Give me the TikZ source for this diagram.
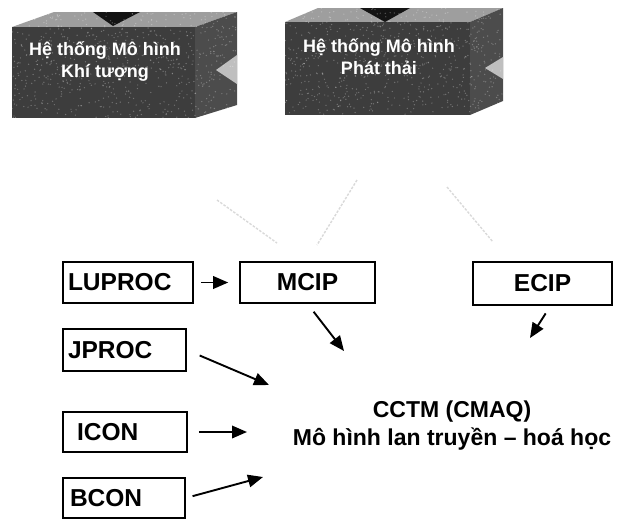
\documentclass[tikz,border=0pt]{standalone}
\usepackage{fontspec}
\setmainfont{Liberation Sans}
\usetikzlibrary{arrows.meta}
\begin{document}
\begin{tikzpicture}[x=1pt,y=-1pt,
  procbox/.style={draw=black, line width=1.6pt, minimum height=41pt, inner ysep=0pt,
    font=\fontsize{24.5}{27}\selectfont\bfseries},
  arr/.style={line width=1.9pt, -{Triangle[length=15pt,width=12.5pt]}},
  faint/.style={draw=gray!30, line width=1.4pt, dash pattern=on 2.5pt off 1.5pt},
  blocktext/.style={text=white, font=\fontsize{18}{22}\selectfont\bfseries, align=center, inner sep=0pt},
  frontface/.style={fill=black!76},
  topface/.style={fill=black!38},
  sideface/.style={fill=black!70},
  notchdark/.style={fill=black!92},
  notchlight/.style={fill=black!25},
  speck/.style={fill=white, opacity=0.28}]

\useasboundingbox (0,0) rectangle (622,520);

% ---- 3-D block: meteorological model system ----
\fill[topface]  (12,27) -- (54,12) -- (237,12) -- (195,27) -- cycle;
\fill[notchdark] (93,12) -- (140,12) -- (113,26) -- cycle;
\fill[sideface] (195,27) -- (237,12) -- (237,105) -- (195,118) -- cycle;
\fill[notchlight] (237,55) -- (216,70) -- (237,84) -- cycle;
\fill[frontface] (12,27) rectangle (195,118);
\pgfmathsetseed{11}
\begin{scope}
  \clip (12,12) rectangle (237,118);
  \foreach \i in {1,...,700} {\fill[speck] ({12+225*rnd},{12+106*rnd}) circle (0.7);}
\end{scope}
\node[blocktext] (metmodel) at (105,61) {Hệ thống Mô hình\\Khí tượng};

% ---- 3-D block: emission model system ----
\fill[topface]  (285,22) -- (318,8) -- (503,8) -- (470,22) -- cycle;
\fill[notchdark] (360,8) -- (410,8) -- (385,22) -- cycle;
\fill[sideface] (470,22) -- (503,8) -- (503,101) -- (470,115) -- cycle;
\fill[notchlight] (503,57) -- (485,68) -- (503,79) -- cycle;
\fill[frontface] (285,22) rectangle (470,115);
\begin{scope}
  \clip (285,8) rectangle (503,115);
  \foreach \i in {1,...,700} {\fill[speck] ({285+218*rnd},{8+107*rnd}) circle (0.7);}
\end{scope}
\node[blocktext] (emimodel) at (379,57) {Hệ thống Mô hình\\Phát thải};

% ---- processor boxes ----
\node[procbox, text width=120pt, inner xsep=5pt, align=left] (luproc) at (128,282.5) {LUPROC};
\node[procbox, minimum width=135pt] (mcip) at (307.5,282.5) {MCIP};
\node[procbox, minimum width=139pt, minimum height=43pt] (ecip) at (542.5,283.5) {ECIP};
\node[procbox, text width=113pt, inner xsep=5pt, minimum height=42pt, align=left] (jproc) at (124.5,350) {JPROC};
\node[procbox, text width=96pt, inner xsep=14pt, minimum height=40pt, align=left] (icon) at (125,432) {ICON};
\node[procbox, text width=108pt, inner xsep=7pt, minimum height=40pt, align=left] (bcon) at (124,498) {BCON};

% ---- chemical transport model ----
\node[font=\fontsize{23}{28}\selectfont\bfseries, align=center, inner sep=0pt] (cctm) at (452,426)
  {CCTM (CMAQ)\\Mô hình lan truyền – hoá học};

% ---- faint links from the model systems ----
\coordinate (f1a) at (217,200); \coordinate (f1b) at (277,243);
\coordinate (f2a) at (357,180); \coordinate (f2b) at (317,245);
\coordinate (f3a) at (447,187); \coordinate (f3b) at (493,242);
\draw[faint] (f1a) -- (f1b);
\draw[faint] (f2a) -- (f2b);
\draw[faint] (f3a) -- (f3b);

% ---- arrows ----
\coordinate (tipM) at (344,351);
\coordinate (tipE) at (530,338);
\coordinate (tipJ) at (269,385);
\coordinate (tipI) at (247,432);
\coordinate (tipB) at (263,477);
\draw[arr, shorten <=7pt, shorten >=11pt] (luproc) -- (mcip);
\draw[arr, shorten <=10pt] (mcip.south) -- (tipM);
\draw[arr, shorten <=9pt] ([xshift=8pt]ecip.south) -- (tipE);
\draw[arr, shorten <=14pt] (jproc.east) -- (tipJ);
\draw[arr, shorten <=11pt] (icon.east) -- (tipI);
\draw[arr, shorten <=7pt] (bcon.east) -- (tipB);
\end{tikzpicture}
\end{document}
